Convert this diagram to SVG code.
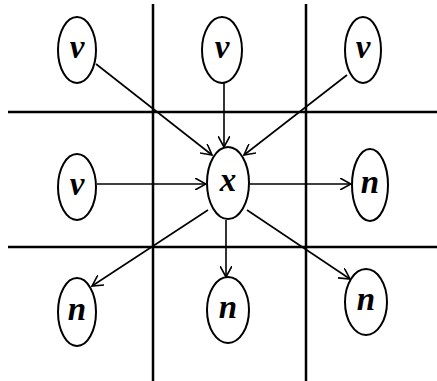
<svg xmlns="http://www.w3.org/2000/svg" width="437" height="381" viewBox="0 0 437 381">
<style>
.grid{stroke:#000;stroke-width:2.5;fill:none}
.node ellipse{fill:#fff;stroke:#000;stroke-width:2}
.node text{font-family:"Liberation Serif","Times New Roman",serif;font-weight:bold;font-style:italic;font-size:33px;text-anchor:middle;fill:#000}
.conn line{stroke:#000;stroke-width:1.6;marker-end:url(#arr)}
</style>
<defs>
<marker id="arr" viewBox="0 0 12 12" refX="11" refY="6" markerWidth="12" markerHeight="12" markerUnits="userSpaceOnUse" orient="auto">
<path d="M0,0 L11,6 L0,12" fill="none" stroke="#000" stroke-width="1.6"/>
</marker>
</defs>
<rect width="437" height="381" fill="#fff"/>
<g id="grid">
<line class="grid" x1="153" y1="4" x2="153" y2="381"/>
<line class="grid" x1="306" y1="4" x2="306" y2="381"/>
<line class="grid" x1="8" y1="112" x2="437" y2="112"/>
<line class="grid" x1="8" y1="247" x2="437" y2="247"/>
</g>
<g id="connectors" class="conn">
<line x1="96" y1="64" x2="212" y2="155"/>
<line x1="224" y1="83" x2="224" y2="147"/>
<line x1="347" y1="75" x2="244" y2="155"/>
<line x1="97" y1="184" x2="206" y2="184"/>
<line x1="250" y1="184" x2="351" y2="184"/>
<line x1="208" y1="210" x2="92" y2="286"/>
<line x1="226" y1="220" x2="226" y2="277"/>
<line x1="247" y1="210" x2="350" y2="279"/>
</g>
<g id="v1" class="node"><ellipse cx="77" cy="50" rx="19" ry="33"/><text x="77" y="58">v</text></g>
<g id="v2" class="node"><ellipse cx="222" cy="50" rx="20" ry="33"/><text x="222" y="58">v</text></g>
<g id="v3" class="node"><ellipse cx="363" cy="50" rx="18" ry="33"/><text x="363" y="58">v</text></g>
<g id="v4" class="node"><ellipse cx="77" cy="187" rx="19" ry="33"/><text x="77" y="195">v</text></g>
<g id="x" class="node"><ellipse cx="228" cy="183" rx="21" ry="36"/><text x="228" y="191">x</text></g>
<g id="n1" class="node"><ellipse cx="370" cy="185" rx="18" ry="36"/><text x="370" y="193">n</text></g>
<g id="n2" class="node"><ellipse cx="77" cy="312" rx="19" ry="34"/><text x="77" y="320">n</text></g>
<g id="n3" class="node"><ellipse cx="228" cy="310" rx="21" ry="33"/><text x="228" y="318">n</text></g>
<g id="n4" class="node"><ellipse cx="366" cy="302" rx="21" ry="33"/><text x="366" y="310">n</text></g>
</svg>
